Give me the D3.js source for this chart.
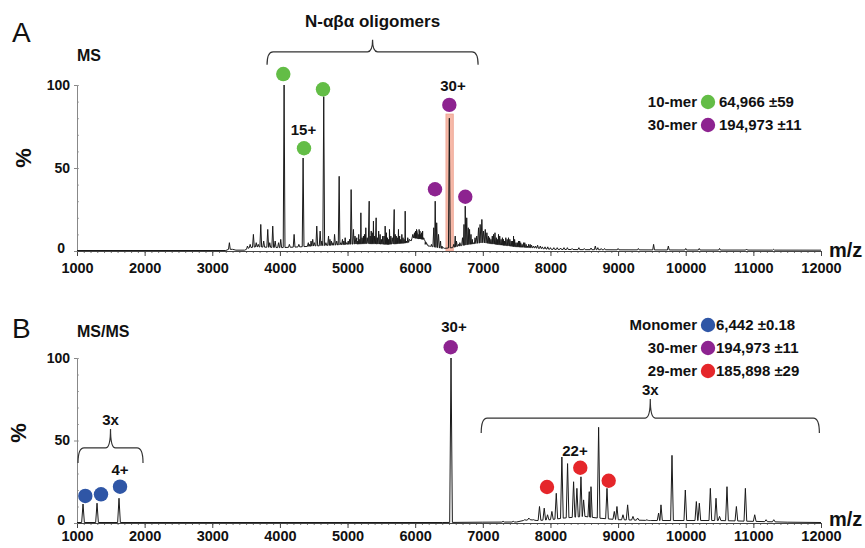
<!DOCTYPE html>
<html>
<head>
<meta charset="utf-8">
<script src="https://cdn.jsdelivr.net/npm/d3@7/dist/d3.min.js"></script>
<style>
  body { margin: 0; background: #fff; }
  text { font-family: "Liberation Sans", Arial, sans-serif; font-weight: bold; fill: #111; }
</style>
</head>
<body>
<div id="chart"></div>
<script>
// ---- data ----
var xTicks = [1000, 2000, 3000, 4000, 5000, 6000, 7000, 8000, 9000, 10000, 11000, 12000];
var yTicks = [0, 50, 100];

// panel A (MS): baseline level [m/z, %] and peaks [m/z, %]
var msBaseline = [[1000, 0.3], [3200, 0.3], [3240, 1], [3300, 1], [3350, 0.5], [3480, 0.5], [3550, 2],
  [3650, 2.5], [4000, 2], [4300, 2.5], [4500, 3], [4800, 3.5], [5000, 4], [5300, 4.5], [5600, 4],
  [5900, 5], [5960, 8], [6130, 7], [6200, 3], [6400, 1.5], [6550, 2], [6650, 3], [6800, 4],
  [7000, 5], [7200, 4], [7500, 2.5], [7700, 2], [8000, 1], [8500, 0.8], [9000, 0.7], [10000, 0.6], [12000, 0.5]];
var msPeaks = [[3253, 5], [3520, 3], [3560, 4], [3608, 10], [3650, 5], [3680, 4], [3717, 16], [3760, 6],
  [3820, 13], [3850, 5], [3894, 15], [3930, 6], [3980, 5], [4012, 7], [4062, 100], [4140, 4],
  [4210, 10], [4280, 4], [4343, 56], [4420, 5], [4440, 4], [4460, 6], [4485, 7], [4510, 5], [4545, 15],
  [4595, 12], [4620, 6], [4648, 93], [4680, 5], [4719, 9], [4740, 7], [4760, 6], [4785, 5], [4808, 10],
  [4840, 6], [4876, 45], [4900, 5], [4925, 7], [4945, 6], [4965, 8], [4985, 5], [5010, 6], [5030, 7],
  [5053, 37], [5087, 13], [5110, 9], [5137, 8], [5150, 6], [5165, 10], [5180, 7], [5197, 23], [5215, 8],
  [5235, 9], [5250, 10], [5270, 14], [5290, 8], [5320, 30], [5335, 9], [5350, 12], [5365, 11], [5383, 18],
  [5400, 9], [5423, 20], [5440, 8], [5460, 12], [5482, 10], [5500, 7], [5520, 9], [5540, 9], [5556, 15],
  [5575, 11], [5590, 8], [5605, 7], [5620, 13], [5640, 9], [5660, 8], [5690, 25], [5705, 10], [5720, 9],
  [5735, 8], [5753, 13], [5770, 9], [5785, 7], [5803, 10], [5820, 8], [5835, 7], [5852, 24], [5870, 6],
  [5890, 8], [5916, 7], [5940, 6], [5965, 10], [5990, 11], [6005, 12], [6020, 13], [6032, 11], [6045, 10],
  [6058, 13], [6070, 12], [6082, 10], [6095, 11], [6110, 12], [6125, 8], [6135, 7], [6148, 4], [6170, 4],
  [6190, 3], [6222, 3], [6240, 4], [6275, 14], [6296, 30], [6318, 17], [6345, 10], [6375, 6], [6395, 3],
  [6420, 2], [6505, 80], [6570, 4], [6592, 9], [6610, 6], [6641, 4], [6660, 5], [6700, 8], [6722, 16],
  [6740, 27], [6762, 20], [6785, 14], [6804, 13], [6825, 10], [6845, 7], [6863, 5], [6885, 8], [6910, 9],
  [6937, 14], [6960, 16], [6986, 19], [7010, 12], [7036, 13], [7060, 11], [7084, 9], [7100, 8], [7120, 7],
  [7140, 9], [7158, 10], [7180, 11], [7200, 8], [7215, 7], [7232, 10], [7250, 9], [7270, 7], [7290, 8],
  [7306, 7], [7320, 6], [7340, 8], [7360, 7], [7380, 8], [7400, 7], [7420, 6], [7440, 6], [7454, 9],
  [7470, 7], [7490, 5], [7510, 5], [7528, 6], [7545, 6], [7560, 5], [7580, 4], [7602, 5], [7620, 5],
  [7640, 4], [7660, 3], [7676, 4], [7700, 4], [7720, 3.5], [7750, 3], [7780, 3], [7810, 3.5], [7850, 3],
  [7880, 2.5], [7920, 2.5], [7960, 2.5], [8000, 2], [8050, 2], [8100, 2], [8150, 1.8], [8200, 2], [8250, 2],
  [8320, 1.5], [8420, 2], [8500, 1.5], [8600, 1.8], [8663, 3], [8700, 2], [8750, 1.5], [8800, 1.5],
  [9000, 1.5], [9300, 1.5], [9525, 4], [9743, 3], [10000, 1.5], [10200, 1.5], [10500, 1.5], [10900, 1.2], [11300, 1]];

// panel B (MS/MS)
var msmsBaseline = [[1000, 0.3], [6400, 0.3], [7000, 0.5], [7500, 0.6], [7600, 1.5], [7700, 2], [7800, 1.5],
  [8000, 2], [8200, 3], [8500, 4], [8700, 3], [9000, 2], [9500, 1.5], [10000, 1.5], [10500, 1.5],
  [11000, 1], [11500, 0.5], [12000, 0.3]];
var msmsPeaks = [[1089, 11.5], [1296, 12], [1621, 15], [6530, 100], [7300, 1], [7450, 1], [7620, 2], [7680, 3],
  [7750, 2], [7838, 10], [7908, 9], [7957, 5], [8021, 7], [8086, 18], [8169, 40], [8253, 36], [8342, 25],
  [8391, 21], [8451, 28], [8490, 14], [8574, 19], [8599, 22], [8712, 58], [8836, 21], [8944, 7], [8983, 10],
  [9072, 5], [9141, 11], [9220, 4], [9289, 3], [9428, 2], [9460, 1.5], [9599, 6], [9634, 11], [9797, 41],
  [9994, 20], [10157, 13], [10201, 12], [10364, 21], [10448, 15], [10500, 4], [10610, 22], [10749, 10],
  [10882, 21], [11020, 5], [11188, 2], [11302, 2]];

// species markers [m/z, %, species]
var msDots = [[4050, 106.6, "10-mer"], [4356, 61.9, "10-mer"], [4637, 97.4, "10-mer"],
  [6505, 88, "30-mer"], [6293, 37.2, "30-mer"], [6741, 32.7, "30-mer"]];
var msmsDots = [[1123, 16.4, "Monomer"], [1355, 17.4, "Monomer"], [1636, 22, "Monomer"],
  [6525, 106.5, "30-mer"], [7949, 21.8, "29-mer"], [8441, 33.5, "29-mer"], [8861, 25.6, "29-mer"]];

// charge state labels [text, m/z, %]
var msCharges = [["15+", 4348, 69.9], ["30+", 6559, 96.4]];
var msmsCharges = [["30+", 6574, 115.8], ["4+", 1636, 29.1], ["22+", 8363, 40.6]];

// legends [species, mass]
var msLegend = [["10-mer", "64,966 ±59"], ["30-mer", "194,973 ±11"]];
var msmsLegend = [["Monomer", "6,442 ±0.18"], ["30-mer", "194,973 ±11"], ["29-mer", "185,898 ±29"]];

// braces [from m/z, to m/z, level %, label]
var msBraces = [[3810, 6930, 120, "N-αβα oligomers"]];
var msmsBraces = [[1015, 1976, 45.5, "3x"], [6976, 11976, 63.6, "3x"]];

// highlighted 30+ peak [from m/z, to m/z, top %]
var highlight = [6455, 6563, 82.5];

var colors = { "10-mer": "#63bd46", "30-mer": "#8d2390", "Monomer": "#2f56a6", "29-mer": "#e5262a" };

// ---- layout ----
var svg = d3.select("#chart").append("svg")
  .attr("width", 865)
  .attr("height", 548);

var xScale = d3.scaleLinear().domain([1000, 12000]).range([77, 821]);

var panels = [
  { letter: "A", title: "MS", y0: 251, y100: 85, letterY: 42, titleY: 61, pctX: 23, pctY: 158,
    pad: 7, mzY: 257, baseline: msBaseline, peaks: msPeaks, hw: 13, dots: msDots, charges: msCharges,
    legend: msLegend, legendY: 107, valueX: 719, braces: msBraces, brace: { drop: 13, rise: 12, gap: 13 } },
  { letter: "B", title: "MS/MS", y0: 523, y100: 358, letterY: 338, titleY: 337, pctX: 18, pctY: 433,
    pad: 3, mzY: 526, baseline: msmsBaseline, peaks: msmsPeaks, hw: 20, dots: msmsDots, charges: msmsCharges,
    legend: msmsLegend, legendY: 330, valueX: 716, braces: msmsBraces, brace: { drop: 15, rise: 19, gap: 4 } }
];

// turn baseline + peak list into a sorted trace
function spectrumPoints(baseline, peaks, hw) {
  var base = d3.scaleLinear()
    .domain(baseline.map(d => d[0]))
    .range(baseline.map(d => d[1]));
  var pts = baseline.filter(b => !peaks.some(p => Math.abs(p[0] - b[0]) < hw));
  peaks.forEach(function(p) {
    pts.push([p[0] - hw, base(p[0] - hw)]);
    pts.push([p[0], p[1]]);
    pts.push([p[0] + hw, base(p[0] + hw)]);
  });
  pts.sort((a, b) => a[0] - b[0]);
  return pts;
}

panels.forEach(function(p, i) {
  var yScale = d3.scaleLinear().domain([0, 100]).range([p.y0, p.y100]);
  var g = svg.append("g");

  // panel letter, title, y label
  g.append("text").attr("x", 12).attr("y", p.letterY)
    .style("font-size", "28px").style("font-weight", "normal").text(p.letter);
  g.append("text").attr("x", 77).attr("y", p.titleY)
    .style("font-size", "16px").text(p.title);
  g.append("text")
    .attr("transform", `translate(${p.pctX + 8}, ${p.pctY}) rotate(-90)`)
    .attr("text-anchor", "middle")
    .style("font-size", "22px").text("%");

  // highlight band (panel A only)
  if (i === 0) {
    g.append("rect")
      .attr("x", xScale(highlight[0]))
      .attr("width", xScale(highlight[1]) - xScale(highlight[0]))
      .attr("y", yScale(highlight[2]))
      .attr("height", yScale(0) - yScale(highlight[2]))
      .attr("fill", "#f6b9a8")
      .attr("stroke", "#eda08e")
      .attr("stroke-width", 0.8);
  }

  // minor ticks
  var minorX = d3.axisBottom(xScale).tickValues(d3.range(1000, 12001, 100)).tickSize(2).tickFormat("");
  g.append("g").attr("transform", `translate(0, ${p.y0})`).call(minorX)
    .call(a => a.select(".domain").remove())
    .selectAll("line").attr("stroke", "#777");
  var minorY = d3.axisRight(yScale).tickValues(d3.range(0, 101, 10)).tickSize(2).tickFormat("");
  g.append("g").attr("transform", "translate(77, 0)").call(minorY)
    .call(a => a.select(".domain").remove())
    .selectAll("line").attr("stroke", "#aaa");

  // main axes
  var xAxis = g.append("g")
    .attr("transform", `translate(0, ${p.y0})`)
    .call(d3.axisBottom(xScale).tickValues(xTicks).tickSize(5).tickPadding(p.pad).tickSizeOuter(0).tickFormat(d3.format("d")));
  xAxis.select(".domain").attr("stroke", "#444");
  xAxis.selectAll("line").attr("stroke", "#444");
  xAxis.selectAll("text").style("font-size", "14.5px").attr("fill", "#111");

  var yAxis = g.append("g")
    .attr("transform", "translate(77, 0)")
    .call(d3.axisLeft(yScale).tickValues(yTicks).tickSize(3).tickPadding(4).tickSizeOuter(0));
  yAxis.select(".domain").attr("stroke", "#888");
  yAxis.selectAll("line").attr("stroke", "#888");
  yAxis.selectAll("text").style("font-size", "14px").attr("fill", "#111");
  // zero label sits a little higher and to the left, as in the figure
  yAxis.selectAll("text").filter(d => d === 0).attr("dx", -5).attr("dy", "0.1em");

  g.append("text").attr("x", 829).attr("y", p.mzY)
    .style("font-size", "20px").text("m/z");

  // spectrum trace
  var line = d3.line().x(d => xScale(d[0])).y(d => yScale(d[1]));
  g.append("path")
    .datum(spectrumPoints(p.baseline, p.peaks, p.hw))
    .attr("d", line)
    .attr("fill", "none")
    .attr("stroke", "#1a1a1a")
    .attr("stroke-width", 1)
    .attr("stroke-linejoin", "round");

  // braces
  p.braces.forEach(function(b) {
    var x1 = xScale(b[0]), x2 = xScale(b[1]), xc = (x1 + x2) / 2, y = yScale(b[2]);
    var d = `M${x1},${y + p.brace.drop} Q${x1},${y} ${x1 + 6},${y} L${xc - 5},${y} Q${xc},${y} ${xc},${y - p.brace.rise}` +
      ` Q${xc},${y} ${xc + 5},${y} L${x2 - 6},${y} Q${x2},${y} ${x2},${y + p.brace.drop}`;
    g.append("path").attr("d", d).attr("fill", "none").attr("stroke", "#333").attr("stroke-width", 1.2);
    g.append("text")
      .attr("x", xc).attr("y", y - p.brace.rise - p.brace.gap)
      .attr("text-anchor", "middle")
      .style("font-size", i === 0 ? "17px" : "15px")
      .text(b[3]);
  });

  // species dots + charge labels
  g.selectAll("circle.dot")
    .data(p.dots)
    .enter()
    .append("circle")
    .attr("class", "dot")
    .attr("cx", d => xScale(d[0]))
    .attr("cy", d => yScale(d[1]))
    .attr("r", 7.2)
    .attr("fill", d => colors[d[2]]);

  g.selectAll("text.charge")
    .data(p.charges)
    .enter()
    .append("text")
    .attr("class", "charge")
    .attr("x", d => xScale(d[1]))
    .attr("y", d => yScale(d[2]))
    .attr("text-anchor", "middle")
    .style("font-size", "15px")
    .text(d => d[0]);

  // legend
  p.legend.forEach(function(row, j) {
    var ly = p.legendY + j * 23;
    g.append("text").attr("x", 697).attr("y", ly).attr("text-anchor", "end")
      .style("font-size", "15px").text(row[0]);
    g.append("circle").attr("cx", 708).attr("cy", ly - 5).attr("r", 7.2).attr("fill", colors[row[0]]);
    g.append("text").attr("x", p.valueX).attr("y", ly)
      .style("font-size", "15px").text(row[1]);
  });
});
</script>
</body>
</html>
